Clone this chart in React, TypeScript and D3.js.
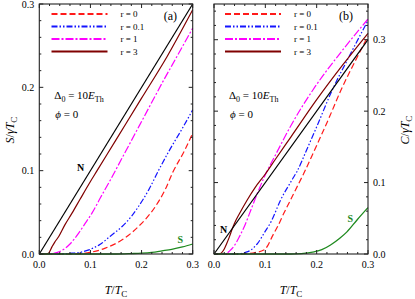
import * as d3 from "d3";
import React from "react";

type Pt = [number, number];

// panel (a): entropy S/γT_C vs T/T_C
const sNormal: Pt[] = [[0, 0], [0.3, 0.3]];
const sR3: Pt[] = [[0, 0], [0.012, 0], [0.018, 0.001], [0.025, 0.0088], [0.03, 0.014], [0.038, 0.021], [0.05, 0.035], [0.064, 0.049], [0.08, 0.066], [0.1, 0.087], [0.113, 0.1], [0.15, 0.137], [0.2, 0.187], [0.25, 0.237], [0.3, 0.293]];
const sR1: Pt[] = [[0, 0], [0.02, 0], [0.03, 0.001], [0.04, 0.003], [0.05, 0.0065], [0.06, 0.012], [0.077, 0.025], [0.09, 0.037], [0.103, 0.049], [0.12, 0.068], [0.14, 0.09], [0.16, 0.113], [0.18, 0.136], [0.2, 0.159], [0.22, 0.182], [0.24, 0.205], [0.26, 0.227], [0.28, 0.249], [0.3, 0.271]];
const sR01: Pt[] = [[0, 0], [0.04, 0], [0.064, 0.001], [0.08, 0.002], [0.097, 0.005], [0.12, 0.012], [0.14, 0.022], [0.162, 0.033], [0.18, 0.045], [0.194, 0.057], [0.214, 0.077], [0.233, 0.1], [0.255, 0.125], [0.28, 0.151], [0.3, 0.173]];
const sR0: Pt[] = [[0, 0], [0.05, 0], [0.08, 0.0005], [0.1, 0.002], [0.129, 0.007], [0.162, 0.017], [0.194, 0.033], [0.227, 0.057], [0.246, 0.077], [0.261, 0.098], [0.284, 0.124], [0.3, 0.145]];
const sSuper: Pt[] = [[0, 0], [0.15, 0], [0.18, 0.0005], [0.2, 0.001], [0.22, 0.002], [0.24, 0.0038], [0.259, 0.0056], [0.28, 0.0085], [0.3, 0.012]];

// panel (b): heat capacity C/γT_C vs T/T_C
const cNormal: Pt[] = [[0, 0], [0.3, 0.3]];
const cR3: Pt[] = [[0, 0], [0.01, 0], [0.015, 0.002], [0.02, 0.007], [0.025, 0.015], [0.03, 0.024], [0.036, 0.036], [0.04, 0.043], [0.05, 0.057], [0.065, 0.076], [0.08, 0.093], [0.1, 0.112], [0.12, 0.133], [0.15, 0.164], [0.2, 0.216], [0.25, 0.264], [0.3, 0.309]];
const cR1: Pt[] = [[0, 0], [0.02, 0], [0.025, 0.001], [0.03, 0.004], [0.04, 0.012], [0.05, 0.025], [0.06, 0.04], [0.072, 0.062], [0.085, 0.086], [0.1, 0.111], [0.12, 0.139], [0.15, 0.18], [0.193, 0.23], [0.25, 0.285], [0.3, 0.329]];
const cR01: Pt[] = [[0, 0], [0.04, 0], [0.05, 0.0005], [0.06, 0.002], [0.072, 0.0056], [0.085, 0.015], [0.1, 0.032], [0.111, 0.045], [0.13, 0.076], [0.153, 0.105], [0.162, 0.116], [0.18, 0.145], [0.2, 0.178], [0.23, 0.229], [0.26, 0.272], [0.3, 0.327]];
const cR0: Pt[] = [[0, 0], [0.05, 0], [0.06, 0.0005], [0.08, 0.002], [0.097, 0.0056], [0.105, 0.012], [0.113, 0.024], [0.125, 0.04], [0.136, 0.057], [0.148, 0.074], [0.159, 0.09], [0.175, 0.113], [0.2, 0.152], [0.225, 0.192], [0.247, 0.229], [0.275, 0.27], [0.3, 0.305]];
const cSuper: Pt[] = [[0, 0], [0.15, 0], [0.17, 0.0005], [0.195, 0.003], [0.21, 0.006], [0.227, 0.0126], [0.245, 0.022], [0.259, 0.031], [0.279, 0.048], [0.3, 0.065]];

const legendLabels = ["r = 0", "r = 0.1", "r = 1", "r = 3"];
const yTickLabels = ["0.0", "0.1", "0.2", "0.3"];
const xTickLabels = ["0.0", "0.1", "0.2", "0.3"];

const styles = [
  { color: "#ff1a1a", dash: "6,3" },
  { color: "#1414ff", dash: "6,2,1.5,2,1.5,2" },
  { color: "#ff00ff", dash: "8,2,2,2" },
  { color: "#800000", dash: "" },
];
const green = "#1f8a1f";
const FONT = "Liberation Serif, Times New Roman, DejaVu Serif, serif";

interface PanelProps {
  x0: number;
  x1: number;
  yMax: number;
  series: Pt[][];
  normal: Pt[];
  sup: Pt[];
  labelsRight: boolean;
  tag: string;
  legendX: number;
  nPos: Pt;
  sPos: Pt;
}

function Panel(p: PanelProps) {
  const top = 4, bottom = 254;
  const x = d3.scaleLinear().domain([0, 0.3]).range([p.x0, p.x1]);
  const y = d3.scaleLinear().domain([0, p.yMax]).range([bottom, top]);
  const line = d3.line<Pt>().x(d => x(d[0])).y(d => y(d[1])).curve(d3.curveMonotoneX);

  const xMinor = x.ticks(15);
  const xMajor = x.ticks(3);
  const yMinor = y.ticks(p.yMax > 0.31 ? 17 : 15);
  const yMajor = y.ticks(p.yMax > 0.31 ? 4 : 3);

  const tickEls: React.ReactNode[] = [];
  xMinor.forEach((t, i) => {
    const major = xMajor.some(m => Math.abs(m - t) < 1e-9);
    const len = major ? 4 : 2;
    tickEls.push(<line key={"xb" + i} x1={x(t)} x2={x(t)} y1={bottom} y2={bottom - len} />);
    tickEls.push(<line key={"xt" + i} x1={x(t)} x2={x(t)} y1={top} y2={top + len} />);
  });
  yMinor.forEach((t, i) => {
    const major = yMajor.some(m => Math.abs(m - t) < 1e-9);
    const len = major ? 4 : 2;
    tickEls.push(<line key={"yl" + i} x1={p.x0} x2={p.x0 + len} y1={y(t)} y2={y(t)} />);
    tickEls.push(<line key={"yr" + i} x1={p.x1} x2={p.x1 - len} y1={y(t)} y2={y(t)} />);
  });

  const lx0 = p.legendX, lx1 = p.legendX + 56;
  const legendY = [14, 26.5, 39, 51.5];

  return (
    <g style={{ fontFamily: FONT }}>
      {p.series.map((s, i) => (
        <path key={"s" + i} d={line(s) || ""} fill="none" stroke={styles[i].color}
          strokeWidth={1.2} strokeDasharray={styles[i].dash} />
      ))}
      <path d={line(p.normal) || ""} fill="none" stroke="#000" strokeWidth={1.2} />
      <path d={line(p.sup) || ""} fill="none" stroke={green} strokeWidth={1.3} />
      <rect x={p.x0} y={top} width={p.x1 - p.x0} height={bottom - top} fill="none" stroke="#222" strokeWidth={1.1} />
      <g stroke="#222" strokeWidth={1}>{tickEls}</g>
      {xMajor.map((t, i) => (
        <text key={"xl" + i} x={x(t)} y={268} fontSize={10} textAnchor="middle">{xTickLabels[i]}</text>
      ))}
      {yMajor.map((t, i) => (
        <text key={"yl" + i} x={p.labelsRight ? p.x1 + 5 : p.x0 - 5} y={y(t) + 3.5} fontSize={10}
          textAnchor={p.labelsRight ? "start" : "end"}>{yTickLabels[i]}</text>
      ))}
      {legendLabels.map((lab, i) => (
        <g key={"lg" + i}>
          <line x1={lx0} x2={lx1} y1={legendY[i]} y2={legendY[i]} stroke={styles[i].color}
            strokeWidth={2} strokeDasharray={styles[i].dash} />
          <text x={lx1 + 13} y={legendY[i] + 3} fontSize={9}>{lab}</text>
        </g>
      ))}
      <text x={p.x1 - 29} y={19.5} fontSize={12}>{p.tag}</text>
      <text x={p.x0 + 15} y={99} fontSize={11}>
        Δ<tspan dy={3} fontSize={8}>0</tspan><tspan dy={-3}> = 10</tspan>
        <tspan fontStyle="italic">E</tspan><tspan dy={3} fontSize={8}>Th</tspan>
      </text>
      <text x={p.x0 + 16} y={117.5} fontSize={11}>
        <tspan fontStyle="italic">ϕ</tspan> = 0
      </text>
      <text x={p.nPos[0]} y={p.nPos[1]} fontSize={10} fontWeight="bold">N</text>
      <text x={p.sPos[0]} y={p.sPos[1]} fontSize={10} fontWeight="bold" fill={green}>S</text>
      <text x={(p.x0 + p.x1) / 2} y={294} fontSize={12} textAnchor="middle">
        <tspan fontStyle="italic">T</tspan>/<tspan fontStyle="italic">T</tspan>
        <tspan dy={3} fontSize={9}>C</tspan>
      </text>
    </g>
  );
}

export default function App() {
  return (
    <svg width={415} height={299} style={{ position: "fixed", left: 0, top: 0, background: "#fff", fontFamily: FONT }}>
      <Panel x0={39.3} x1={192.7} yMax={0.3} series={[sR0, sR01, sR1, sR3]} normal={sNormal} sup={sSuper}
        labelsRight={false} tag="(a)" legendX={51.5} nPos={[77, 171]} sPos={[177.5, 243]} />
      <Panel x0={214} x1={368} yMax={0.35} series={[cR0, cR01, cR1, cR3]} normal={cNormal} sup={cSuper}
        labelsRight={true} tag="(b)" legendX={225} nPos={[220, 232.5]} sPos={[347.5, 221.5]} />
      <text transform="translate(14,130) rotate(-90)" fontSize={12} textAnchor="middle">
        <tspan fontStyle="italic">S</tspan>/<tspan fontStyle="italic">γT</tspan>
        <tspan dy={3} fontSize={9}>C</tspan>
      </text>
      <text transform="translate(409,130) rotate(-90)" fontSize={12} textAnchor="middle">
        <tspan fontStyle="italic">C</tspan>/<tspan fontStyle="italic">γT</tspan>
        <tspan dy={3} fontSize={9}>C</tspan>
      </text>
    </svg>
  );
}
